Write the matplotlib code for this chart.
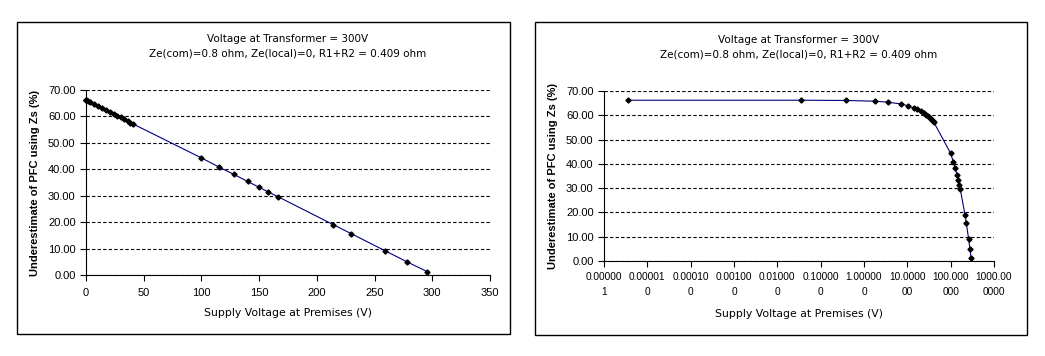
import numpy as np
import matplotlib.pyplot as plt
from matplotlib.patches import Rectangle
from matplotlib.ticker import FixedLocator, NullLocator

# supply voltage at premises (V) and underestimate of PFC (%)
volts = [0.0000035, 0.035, 0.38, 1.8, 3.5, 7.0, 10.5, 14.0, 17.0, 20.5, 24.0, 27.0,
         30.0, 33.0, 36.0, 38.5, 41.0, 100.0, 115.0, 128.0, 140.0, 150.0, 158.0,
         166.0, 214.0, 229.5, 259.0, 278.0, 295.5]
under = [66.2, 66.2, 66.1, 65.8, 65.4, 64.7, 63.9, 63.1, 62.5, 61.7, 60.9, 60.3,
         59.6, 58.9, 58.3, 57.7, 57.1, 44.3, 40.9, 38.1, 35.4, 33.2, 31.4,
         29.7, 19.1, 15.7, 9.2, 5.0, 1.3]

yticks = [0, 10, 20, 30, 40, 50, 60, 70]
lin_xticks = [0, 50, 100, 150, 200, 250, 300, 350]
log_xticks = [1e-6, 1e-5, 1e-4, 1e-3, 1e-2, 1e-1, 1e0, 1e1, 1e2, 1e3]
log_xlabels = ["0.00000\n1", "0.00001\n0", "0.00010\n0", "0.00100\n0", "0.01000\n0",
               "0.10000\n0", "1.00000\n0", "10.0000\n00", "100.000\n000", "1000.00\n0000"]

title = "Voltage at Transformer = 300V\nZe(com)=0.8 ohm, Ze(local)=0, R1+R2 = 0.409 ohm"
xlab = "Supply Voltage at Premises (V)"
ylab = "Underestimate of PFC using Zs (%)"

plt.rcParams['font.family'] = ['Liberation Sans', 'DejaVu Sans']
plt.rcParams['font.size'] = 8
TXT = ['DejaVu Sans']

W, H = 1045, 356
fig = plt.figure(figsize=(W / 100, H / 100), dpi=100)

def px_axes(x0, y0, x1, y1):
    return fig.add_axes([x0 / W, 1 - y1 / H, (x1 - x0) / W, (y1 - y0) / H])

def box(x0, y0, x1, y1):
    fig.patches.append(Rectangle((x0 / W, 1 - y1 / H), (x1 - x0) / W, (y1 - y0) / H,
                                 transform=fig.transFigure, fill=False,
                                 edgecolor='black', linewidth=1.0))

def style(ax):
    for s in ['top', 'right']:
        ax.spines[s].set_visible(False)
    for s in ['left', 'bottom']:
        ax.spines[s].set_linewidth(0.8)
    ax.set_ylim(0, 70)
    ax.set_yticks(yticks)
    ax.set_yticklabels(["%.2f" % v for v in yticks])
    ax.yaxis.grid(True, color='black', linestyle=(0, (3, 2)), linewidth=0.8)
    ax.set_axisbelow(True)
    ax.tick_params(direction='out', length=4, width=0.8, colors='black', labelsize=8)
    ax.plot(volts, under, color='#000080', linewidth=0.8, marker='D',
            markersize=2.6, markerfacecolor='black', markeredgecolor='black', clip_on=False)
    ax.set_title(title, fontsize=7.5, family=TXT, pad=24, linespacing=1.6)
    ax.set_ylabel(ylab, fontweight='bold', fontsize=8, labelpad=6)

# left: linear axis
box(17, 22, 510, 334)
ax1 = px_axes(86, 90, 490, 275)
style(ax1)
ax1.set_xlim(0, 350)
ax1.set_xticks(lin_xticks)
ax1.tick_params(axis='x', pad=5)
ax1.set_xlabel(xlab, fontsize=7.8, family=TXT, labelpad=7.5)

# right: log axis
box(535, 22, 1027, 335)
ax2 = px_axes(604, 91, 994, 261)
style(ax2)
ax2.set_xscale('log')
ax2.set_xlim(1e-6, 1e3)
ax2.xaxis.set_major_locator(FixedLocator(log_xticks))
ax2.xaxis.set_minor_locator(NullLocator())
ax2.set_xticklabels(log_xlabels, linespacing=1.6)
ax2.tick_params(axis='x', pad=4, labelsize=7.3)
ax2.set_xlabel(xlab, fontsize=7.8, family=TXT, labelpad=9)

fig.savefig("out.png", dpi=100)
